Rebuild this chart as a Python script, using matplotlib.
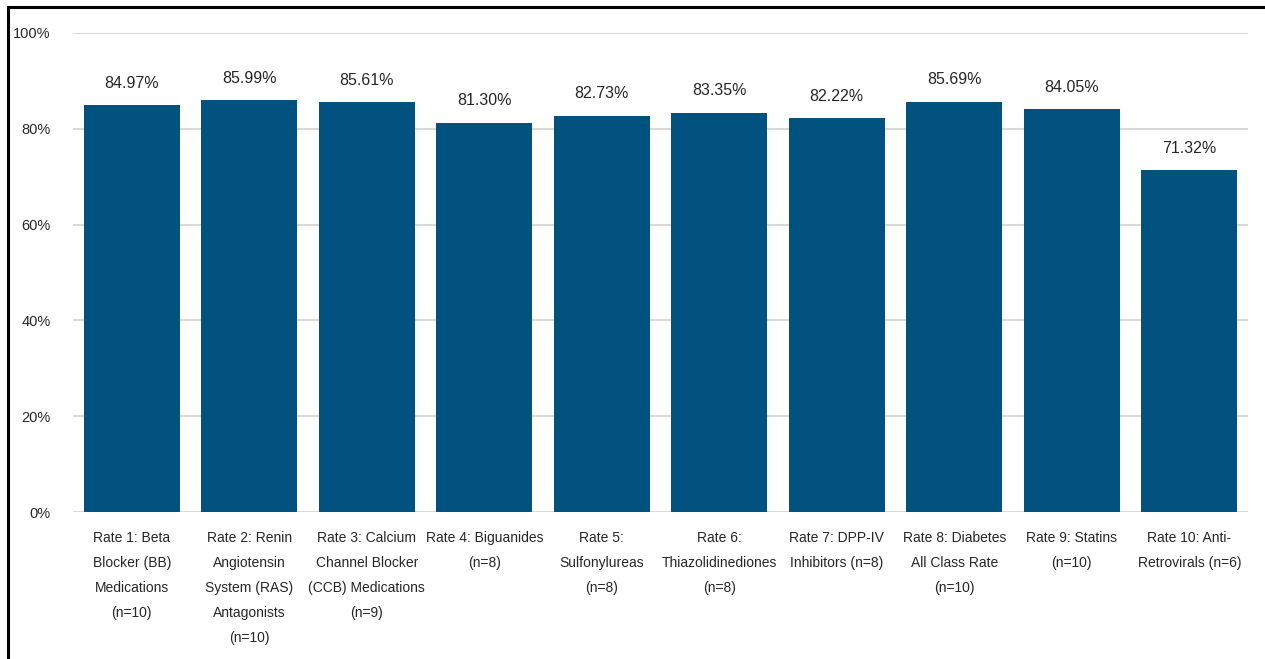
import matplotlib.pyplot as plt
from matplotlib.ticker import PercentFormatter

plt.rcParams['font.family'] = ['Liberation Sans', 'DejaVu Sans']

categorias = [
    'Rate 1: Beta\nBlocker (BB)\nMedications\n(n=10)',
    'Rate 2: Renin\nAngiotensin\nSystem (RAS)\nAntagonists\n(n=10)',
    'Rate 3: Calcium\nChannel Blocker\n(CCB) Medications\n(n=9)',
    'Rate 4: Biguanides\n(n=8)',
    'Rate 5:\nSulfonylureas\n(n=8)',
    'Rate 6:\nThiazolidinediones\n(n=8)',
    'Rate 7: DPP-IV\nInhibitors (n=8)',
    'Rate 8: Diabetes\nAll Class Rate\n(n=10)',
    'Rate 9: Statins\n(n=10)',
    'Rate 10: Anti-\nRetrovirals (n=6)',
]
tasas = [84.97, 85.99, 85.61, 81.30, 82.73, 83.35, 82.22, 85.69, 84.05, 71.32]

fig = plt.figure(figsize=(12.65, 6.59), dpi=100)
ax = fig.add_axes([73 / 1265, 1 - 512 / 659, 1175 / 1265, 479 / 659])

x = range(len(tasas))
barras = ax.bar(x, tasas, width=0.82, color='#02527F', zorder=3)
for b, v in zip(barras, tasas):
    ax.text(b.get_x() + b.get_width() / 2, v + 3, f'{v:.2f}%',
            ha='center', va='bottom', fontsize=11.5, color='#262626')

ax.set_xlim(-0.5, len(tasas) - 0.5)
ax.set_ylim(0, 100)
ax.set_yticks(range(0, 101, 20))
ax.yaxis.set_major_formatter(PercentFormatter(decimals=0))
ax.set_xticks(list(x))
ax.set_xticklabels(categorias, fontsize=10, color='#262626', linespacing=2.0)
ax.tick_params(axis='y', labelsize=10.5, labelcolor='#262626', length=0, pad=16)
ax.tick_params(axis='x', length=0, pad=14)
ax.grid(axis='y', color='#D9D9D9', linewidth=1.5, zorder=0)
for s in ax.spines.values():
    s.set_visible(False)

# marco negro (arriba e izquierda)
fig.add_artist(plt.Line2D([8 / 1265, 1], [1 - 7 / 659, 1 - 7 / 659], color='black', linewidth=2.2))
fig.add_artist(plt.Line2D([8 / 1265, 8 / 1265], [0, 1 - 7 / 659], color='black', linewidth=2.2))

fig.savefig('out.png', dpi=100)
